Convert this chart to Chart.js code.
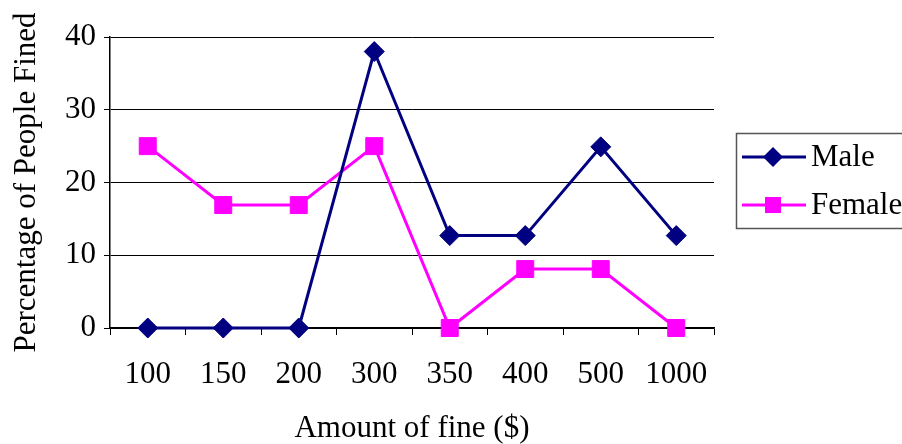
<!DOCTYPE html>
<html lang="en">
<head>
    <meta charset="UTF-8">
    <title>Amount of fine</title>
    <script src="https://cdn.jsdelivr.net/npm/chart.js"></script>
    <style>
        body {
            margin: 0;
            background-color: #fff;
        }
        .chart-container {
            width: 902px;
            height: 444px;
        }
    </style>
</head>
<body>

    <div class="chart-container">
        <canvas id="fineChart" width="902" height="444"></canvas>
    </div>

    <script>
        // Data
        const fineLabels = ['100', '150', '200', '300', '350', '400', '500', '1000'];
        const maleData = [0, 0, 0, 38, 12.7, 12.7, 24.9, 12.7];
        const femaleData = [25, 16.9, 16.9, 25, 0, 8.1, 8.1, 0];
        const yTicks = [0, 10, 20, 30, 40];

        const serif = "'Liberation Serif', 'Times New Roman', serif";
        const fontSize = 31;

        // Boxed legend on the right, line + marker like the original
        const boxLegend = {
            id: 'boxLegend',
            afterDraw(chart) {
                const ctx = chart.ctx;
                ctx.save();
                ctx.strokeStyle = '#555';
                ctx.lineWidth = 1.5;
                ctx.strokeRect(736.5, 133.5, 180, 95);
                chart.data.datasets.forEach((ds, i) => {
                    const y = 157 + i * 48;
                    ctx.strokeStyle = ds.borderColor;
                    ctx.lineWidth = 3;
                    ctx.beginPath();
                    ctx.moveTo(742, y);
                    ctx.lineTo(806, y);
                    ctx.stroke();
                    ctx.fillStyle = ds.backgroundColor;
                    ctx.beginPath();
                    if (ds.pointStyle === 'rectRot') {
                        ctx.moveTo(773, y - 10);
                        ctx.lineTo(783, y);
                        ctx.lineTo(773, y + 10);
                        ctx.lineTo(763, y);
                    } else {
                        ctx.rect(765, y - 8, 16, 16);
                    }
                    ctx.closePath();
                    ctx.fill();
                    ctx.fillStyle = '#000';
                    ctx.font = fontSize + 'px ' + serif;
                    ctx.textBaseline = 'middle';
                    ctx.fillText(ds.label, 811, y + 1);
                });
                ctx.restore();
            }
        };

        new Chart(document.getElementById('fineChart'), {
            type: 'line',
            data: {
                labels: fineLabels,
                datasets: [{
                    label: 'Male',
                    data: maleData,
                    borderColor: '#000080',
                    backgroundColor: '#000080',
                    borderWidth: 3,
                    pointStyle: 'rectRot',
                    pointRadius: 10,
                    pointHoverRadius: 10,
                    pointBorderWidth: 1,
                    tension: 0,
                    clip: false
                }, {
                    label: 'Female',
                    data: femaleData,
                    borderColor: '#ff00ff',
                    backgroundColor: '#ff00ff',
                    borderWidth: 3,
                    pointStyle: 'rect',
                    pointRadius: 12,
                    pointHoverRadius: 12,
                    pointBorderWidth: 1,
                    tension: 0,
                    clip: false
                }]
            },
            options: {
                responsive: false,
                animation: false,
                events: [],
                layout: {
                    padding: { top: 37, right: 188, bottom: 0, left: 0 }
                },
                plugins: {
                    legend: { display: false },
                    tooltip: { enabled: false }
                },
                scales: {
                    x: {
                        offset: true,
                        afterFit: (scale) => { scale.height = 116; },
                        grid: {
                            offset: true,
                            drawOnChartArea: false,
                            color: '#000',
                            tickLength: 7
                        },
                        border: { color: '#000', width: 1.5 },
                        ticks: {
                            color: '#000',
                            padding: 21,
                            font: { family: serif, size: fontSize }
                        },
                        title: {
                            display: true,
                            text: 'Amount of fine ($)',
                            color: '#000',
                            padding: { top: 0, bottom: -3 },
                            font: { family: serif, size: fontSize }
                        }
                    },
                    y: {
                        min: 0,
                        max: 40,
                        afterFit: (scale) => { scale.width = 110; },
                        afterBuildTicks: (scale) => {
                            scale.ticks = yTicks.map(v => ({ value: v }));
                        },
                        grid: {
                            color: '#000',
                            lineWidth: 1,
                            tickLength: 6
                        },
                        border: { color: '#000', width: 1.5 },
                        ticks: {
                            color: '#000',
                            padding: 8,
                            font: { family: serif, size: fontSize }
                        },
                        title: {
                            display: true,
                            text: 'Percentage of People Fined',
                            color: '#000',
                            padding: { top: 8, bottom: 0 },
                            font: { family: serif, size: fontSize }
                        }
                    }
                }
            },
            plugins: [boxLegend]
        });
    </script>

</body>
</html>
